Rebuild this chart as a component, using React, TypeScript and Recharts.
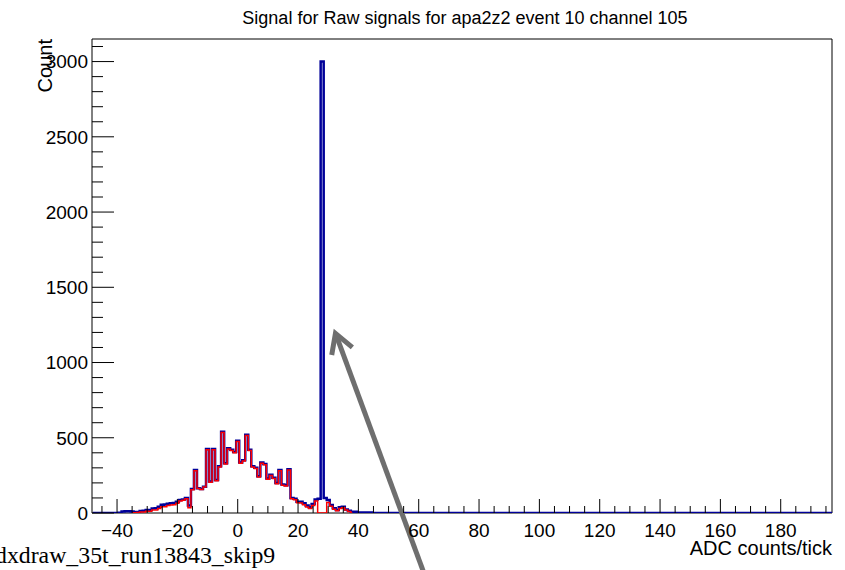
import React from "react";
import { LineChart, Line, XAxis, YAxis, ReferenceArea, ReferenceLine, Label } from "recharts";

const title = "Signal for Raw signals for apa2z2 event 10 channel 105";
const xTitle = "ADC counts/tick";
const yTitle = "Count";
const footText = "dxdraw_35t_run13843_skip9";

const xMin = -48.3;
const xMax = 197;
const yMax = 3150;

// minor ticks every 5, labels every 20
const xTicks = [-45, -40, -35, -30, -25, -20, -15, -10, -5, 0, 5, 10, 15, 20, 25, 30, 35, 40, 45, 50, 55, 60, 65, 70, 75, 80, 85, 90, 95, 100, 105, 110, 115, 120, 125, 130, 135, 140, 145, 150, 155, 160, 165, 170, 175, 180, 185, 190, 195];
const xLabels = [-40, -20, 0, 20, 40, 60, 80, 100, 120, 140, 160, 180];
const yTicks = [0, 100, 200, 300, 400, 500, 600, 700, 800, 900, 1000, 1100, 1200, 1300, 1400, 1500, 1600, 1700, 1800, 1900, 2000, 2100, 2200, 2300, 2400, 2500, 2600, 2700, 2800, 2900, 3000, 3100];
const yLabels = [0, 500, 1000, 1500, 2000, 2500, 3000];

// histogram bins (width 1), all counts outside the listed ranges are 0
const firstBin = -48;
const lastBin = 197;

// all signals, bins -40 .. 45
const blueStart = -40;
const blueCounts = [
  0, 1, 10, 11, 11, 10, 7, 7, 14, 15,
  20, 20, 30, 31, 42, 55, 57, 62, 64, 66,
  75, 86, 90, 100, 50, 160, 285, 165, 160, 175,
  425, 210, 425, 220, 310, 540, 330, 430, 420, 405,
  480, 335, 350, 520, 420, 310, 300, 245, 335, 325,
  230, 255, 235, 200, 285, 190, 185, 290, 100, 95,
  75, 75, 64, 50, 38, 60, 90, 95, 3000, 100,
  86, 53, 31, 20, 38, 42, 24, 15, 9, 9,
  4, 4, 4, 3, 3, 0,
];

// second selection, bins -35 .. 38
const redStart = -35;
const redCounts = [
  0, 2, 3, 7, 7, 11, 11, 20, 20, 30,
  42, 42, 50, 53, 55, 64, 80, 85, 95, 35,
  155, 280, 162, 157, 172, 420, 205, 420, 215, 305,
  535, 325, 425, 415, 400, 475, 330, 345, 515, 415,
  305, 295, 240, 330, 320, 225, 250, 230, 195, 280,
  185, 180, 285, 95, 88, 68, 66, 55, 40, 30,
  50, 80, 0, 0, 0, 70, 45, 25, 15, 30,
  35, 20, 10, 0,
];

// annotation arrow (data coordinates): tip, then tail
const arrowTip = { x: 32.4, y: 1194 };
const arrowTail = { x: 61.6, y: -392 };

const data: { x: number; blue: number; red: number | null }[] = [];
for (let b = firstBin; b <= lastBin; b++) {
  const bi = b - blueStart;
  const ri = b - redStart;
  data.push({
    x: b,
    blue: bi >= 0 && bi < blueCounts.length ? blueCounts[bi] : 0,
    red: ri >= 0 && ri < redCounts.length ? redCounts[ri] : null,
  });
}

const font = "'Liberation Sans', Arial, Helvetica, sans-serif";

const fmt = (v: number) => (v < 0 ? "\u2212" + Math.abs(v) : String(v));

const XTick = (props: any) => {
  const { x, y, payload } = props;
  const v = payload.value;
  const major = xLabels.includes(v);
  return (
    <g>
      <line x1={x} y1={y} x2={x} y2={y - (major ? 14 : 7)} stroke="#000" strokeWidth={1} />
      {major && (
        <text x={x} y={y + 24} textAnchor="middle" fontSize={19} fontFamily={font} fill="#000">
          {fmt(v)}
        </text>
      )}
    </g>
  );
};

const YTick = (props: any) => {
  const { x, y, payload } = props;
  const v = payload.value;
  const major = yLabels.includes(v);
  return (
    <g>
      <line x1={x} y1={y} x2={x + (major ? 22 : 11)} y2={y} stroke="#000" strokeWidth={1} />
      {major && (
        <text x={x - 4} y={y} dy="0.36em" textAnchor="end" fontSize={19} fontFamily={font} fill="#000">
          {v}
        </text>
      )}
    </g>
  );
};

const ArrowShape = (props: any) => {
  const { x1, y1, x2, y2 } = props;
  const ang = Math.atan2(y2 - y1, x2 - x1);
  const len = 22;
  const spread = Math.PI / 6;
  const w1x = x1 + len * Math.cos(ang - spread);
  const w1y = y1 + len * Math.sin(ang - spread);
  const w2x = x1 + len * Math.cos(ang + spread);
  const w2y = y1 + len * Math.sin(ang + spread);
  return (
    <g stroke="#6e6e6e" strokeWidth={5} fill="none">
      <line x1={x1 + 2 * Math.cos(ang)} y1={y1 + 2 * Math.sin(ang)} x2={x2} y2={y2} />
      <polyline points={`${w1x},${w1y} ${x1},${y1} ${w2x},${w2y}`} strokeLinejoin="miter" />
    </g>
  );
};

export default function App() {
  return (
    <div style={{ position: "absolute", left: 0, top: 0, width: 845, height: 570, background: "#fff" }}>
      <LineChart width={845} height={570} data={data} margin={{ top: 39, right: 13, bottom: 0, left: 0 }}>
        <XAxis
          type="number"
          dataKey="x"
          domain={[xMin, xMax]}
          ticks={xTicks}
          interval={0}
          tick={XTick}
          tickLine={false}
          tickSize={0}
          tickMargin={0}
          axisLine={false}
          height={57}
          allowDataOverflow
        >
          <Label
            content={(p: any) => {
              const vb = p.viewBox;
              return (
                <text x={vb.x + vb.width} y={vb.y + 42} textAnchor="end" fontSize={20} fontFamily={font} fill="#000">
                  {xTitle}
                </text>
              );
            }}
          />
        </XAxis>
        <YAxis
          type="number"
          domain={[0, yMax]}
          ticks={yTicks}
          interval={0}
          tick={YTick}
          tickLine={false}
          tickSize={0}
          tickMargin={0}
          axisLine={false}
          width={92}
          allowDataOverflow
        >
          <Label
            content={(p: any) => {
              const vb = p.viewBox;
              return (
                <text
                  transform={`translate(52, ${vb.y}) rotate(-90)`}
                  textAnchor="end"
                  fontSize={20}
                  fontFamily={font}
                  fill="#000"
                >
                  {yTitle}
                </text>
              );
            }}
          />
        </YAxis>
        <ReferenceArea x1={xMin} x2={xMax} y1={0} y2={yMax} fill="none" stroke="#000" strokeWidth={1} ifOverflow="visible" />
        <Line
          type="step"
          dataKey="blue"
          stroke="#000099"
          strokeWidth={2.5}
          dot={false}
          activeDot={false}
          isAnimationActive={false}
        />
        <Line
          type="step"
          dataKey="red"
          stroke="#ff0000"
          strokeWidth={1.5}
          dot={false}
          activeDot={false}
          isAnimationActive={false}
        />
        <ReferenceLine segment={[arrowTip, arrowTail]} ifOverflow="visible" shape={ArrowShape} />
      </LineChart>
      <svg
        width={845}
        height={570}
        style={{ position: "absolute", left: 0, top: 0, pointerEvents: "none" }}
      >
        <text x={465} y={24} textAnchor="middle" fontSize={18} fontFamily={font} fill="#000">
          {title}
        </text>
        <text x={-5} y={563} fontSize={23.8} fontFamily="'Liberation Serif', 'Times New Roman', serif" fill="#000">
          {footText}
        </text>
      </svg>
    </div>
  );
}
